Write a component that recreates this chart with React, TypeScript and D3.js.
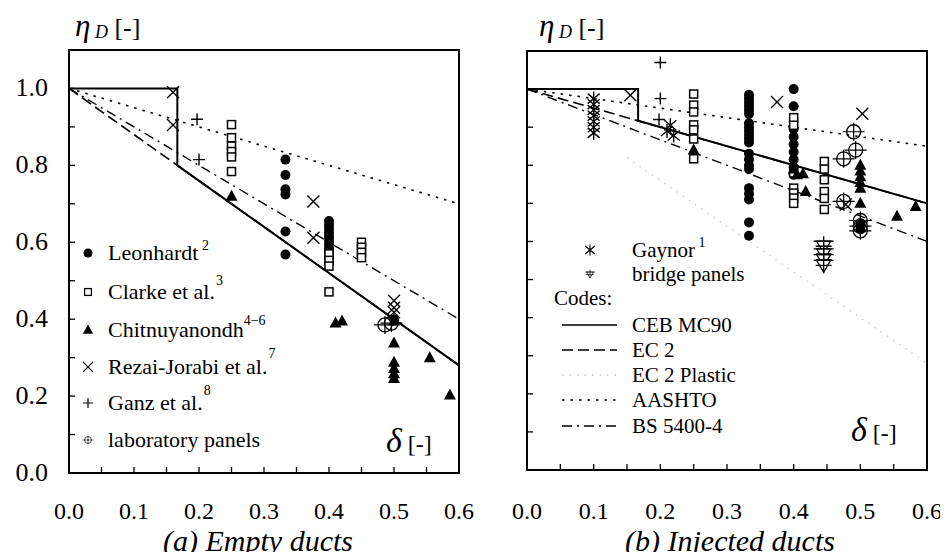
import React from 'react';
import * as d3 from 'd3';

type Pt = [number, number];

// ---- (a) Empty ducts ----
const leonhardtA: Pt[] = [
  [0.333, 0.815], [0.333, 0.775], [0.333, 0.738], [0.333, 0.724], [0.333, 0.628], [0.333, 0.568],
  [0.4, 0.655], [0.4, 0.645], [0.4, 0.635], [0.4, 0.625], [0.4, 0.615], [0.4, 0.605],
  [0.4, 0.595], [0.4, 0.585], [0.4, 0.575], [0.4, 0.56], [0.4, 0.545], [0.5, 0.4],
];
const clarkeA: Pt[] = [
  [0.25, 0.906], [0.25, 0.872], [0.25, 0.85], [0.25, 0.836], [0.25, 0.822], [0.25, 0.784],
  [0.4, 0.57], [0.4, 0.553], [0.4, 0.538], [0.4, 0.471],
  [0.45, 0.6], [0.45, 0.587], [0.45, 0.574], [0.45, 0.56],
];
const chitnuyanondhA: Pt[] = [
  [0.25, 0.72], [0.41, 0.39], [0.42, 0.395],
  [0.5, 0.395], [0.5, 0.338], [0.5, 0.288], [0.5, 0.272], [0.5, 0.258], [0.5, 0.246],
  [0.555, 0.3], [0.586, 0.203],
];
const rezaiA: Pt[] = [
  [0.16, 0.99], [0.16, 0.905], [0.376, 0.706], [0.376, 0.612],
  [0.5, 0.448], [0.5, 0.43], [0.5, 0.418],
];
const ganzA: Pt[] = [[0.197, 0.92], [0.2, 0.815]];
const labA: Pt[] = [[0.486, 0.385], [0.496, 0.39]];

// ---- (b) Injected ducts ----
const leonhardtB: Pt[] = [
  [0.333, 0.985], [0.333, 0.975], [0.333, 0.965], [0.333, 0.955], [0.333, 0.945], [0.333, 0.935],
  [0.333, 0.91], [0.333, 0.9], [0.333, 0.89], [0.333, 0.88], [0.333, 0.87], [0.333, 0.86],
  [0.333, 0.83], [0.333, 0.815], [0.333, 0.8], [0.333, 0.79], [0.333, 0.74], [0.333, 0.725],
  [0.333, 0.71], [0.333, 0.65], [0.333, 0.615],
  [0.4, 1.0], [0.4, 0.955], [0.4, 0.895], [0.4, 0.875], [0.4, 0.855], [0.4, 0.835],
  [0.4, 0.815], [0.4, 0.795], [0.4, 0.775],
  [0.5, 0.648], [0.5, 0.632],
];
const clarkeB: Pt[] = [
  [0.25, 0.987], [0.25, 0.958], [0.25, 0.94], [0.25, 0.906], [0.25, 0.893], [0.25, 0.869], [0.25, 0.817],
  [0.4, 0.925], [0.4, 0.905], [0.4, 0.78], [0.4, 0.74], [0.4, 0.727], [0.4, 0.714], [0.4, 0.7],
  [0.446, 0.81], [0.446, 0.79], [0.446, 0.762], [0.446, 0.731], [0.446, 0.713], [0.446, 0.684],
];
const chitnuyanondhB: Pt[] = [
  [0.25, 0.84], [0.4, 0.79], [0.405, 0.775], [0.414, 0.778], [0.418, 0.731],
  [0.5, 0.8], [0.5, 0.785], [0.5, 0.77], [0.5, 0.755], [0.5, 0.74], [0.5, 0.7],
  [0.555, 0.666], [0.583, 0.692],
];
const rezaiB: Pt[] = [[0.155, 0.984], [0.375, 0.966], [0.503, 0.935], [0.478, 0.697]];
const ganzB: Pt[] = [[0.2, 1.07], [0.2, 0.975], [0.198, 0.92]];
const gaynorB: Pt[] = [
  [0.1, 0.975], [0.1, 0.96], [0.1, 0.945], [0.1, 0.93], [0.1, 0.915], [0.1, 0.9], [0.1, 0.885],
  [0.215, 0.905], [0.21, 0.89], [0.22, 0.878],
];
const labB: Pt[] = [
  [0.49, 0.888], [0.493, 0.84], [0.475, 0.817], [0.475, 0.705],
  [0.5, 0.655], [0.5, 0.64], [0.5, 0.628],
];
const bridgeB: Pt[] = [[0.445, 0.59], [0.445, 0.57], [0.445, 0.555], [0.445, 0.54]];

// ---- code lines ----
const cebA: Pt[] = [[0, 1], [1 / 6, 1], [1 / 6, 0.8], [0.6, 0.28]];
const ec2A: Pt[] = [[0, 1], [0.6, 0.28]];
const aashtoA: Pt[] = [[0, 1], [0.6, 0.7]];
const bsA: Pt[] = [[0, 1], [0.6, 0.4]];

const cebB: Pt[] = [[0, 1], [1 / 6, 1], [1 / 6, 0.917], [0.6, 0.7]];
const ec2B: Pt[] = [[0, 1], [0.6, 0.7]];
const ec2PlasticB: Pt[] = [[0.15, 0.82], [0.6, 0.28]];
const aashtoB: Pt[] = [[0, 1], [0.6, 0.85]];
const bsB: Pt[] = [[0, 1], [0.6, 0.6]];

const xTickLabels = ['0.0', '0.1', '0.2', '0.3', '0.4', '0.5', '0.6'];
const yTickLabels = ['0.0', '0.2', '0.4', '0.6', '0.8', '1.0'];

const SERIF = "'Liberation Serif'";

const styles: Record<string, any> = {
  solid: { strokeWidth: 2 },
  dashed: { strokeWidth: 1.6, strokeDasharray: '11,5' },
  plastic: { strokeWidth: 1.2, strokeDasharray: '1.5,6', stroke: '#c4c4c4' },
  dotted: { strokeWidth: 1.6, strokeDasharray: '2.5,6' },
  dashdot: { strokeWidth: 1.4, strokeDasharray: '10,5,2,5' },
};

// plain text with the serif font set inline
function T({ children, ...rest }: any) {
  return (
    <text {...rest} style={{ fontFamily: SERIF }}>
      {children}
    </text>
  );
}

function Marker({ type, x, y, s = 1 }: { type: string; x: number; y: number; s?: number }) {
  const t = `translate(${x},${y}) scale(${s})`;
  switch (type) {
    case 'circle':
      return <circle transform={t} r={5} fill="#000" />;
    case 'square':
      return <rect transform={t} x={-4} y={-4} width={8} height={8} fill="#fff" stroke="#000" strokeWidth={1.5} />;
    case 'triangle':
      return <path transform={t} d="M0,-6.5L6,4.5L-6,4.5Z" fill="#000" />;
    case 'x':
      return <path transform={t} d="M-6,-6L6,6M-6,6L6,-6" stroke="#000" strokeWidth={1.4} fill="none" />;
    case 'plus':
      return <path transform={t} d="M-6,0H6M0,-6V6" stroke="#000" strokeWidth={1.4} fill="none" />;
    case 'lab':
      return (
        <g transform={t}>
          <circle r={7} fill="none" stroke="#000" strokeWidth={1.3} />
          <path d="M-11,0H11M0,-9V9" stroke="#000" strokeWidth={1.2} />
        </g>
      );
    case 'gaynor':
      return <path transform={t} d="M0,-7V7M-6,-5L6,5M-6,5L6,-5" stroke="#000" strokeWidth={1.4} fill="none" />;
    case 'bridge':
      return (
        <g transform={t}>
          <path d="M-7,-4L7,-4L0,8Z" fill="#fff" stroke="#000" strokeWidth={1.3} />
          <path d="M-10,-4H10M-8,1H8M0,-9V9" stroke="#000" strokeWidth={1.3} />
        </g>
      );
    default:
      return null;
  }
}

type Series = { type: string; data: Pt[] };
type CodeLine = { style: string; data: Pt[] };

function Panel({ left, right, top, bottom, series, codes, yLabels, caption, capX, children }: any) {
  const x = d3.scaleLinear().domain([0, 0.6]).range([left, right]);
  const y = d3.scaleLinear().domain([0, 1.1]).range([bottom, top]);
  const line = d3.line<Pt>().x(d => x(d[0])).y(d => y(d[1]));
  return (
    <g>
      {codes.map((c: CodeLine, i: number) => (
        <path key={i} d={line(c.data) || ''} fill="none" stroke="#000" {...styles[c.style]} />
      ))}
      {series.map((s: Series, i: number) =>
        s.data.map((d, j) => <Marker key={`${i}-${j}`} type={s.type} x={x(d[0])} y={y(d[1])} />)
      )}
      <rect x={left} y={top} width={right - left} height={bottom - top} fill="none" stroke="#000" strokeWidth={2} />
      {x.ticks(12).map((t, i) => (
        <line key={'xt' + i} x1={x(t)} x2={x(t)} y1={bottom} y2={bottom - 6} stroke="#000" strokeWidth={1.3} />
      ))}
      {y.ticks(11).map((t, i) => (
        <line key={'yt' + i} x1={left} x2={left + 6} y1={y(t)} y2={y(t)} stroke="#000" strokeWidth={1.3} />
      ))}
      {xTickLabels.map(l => (
        <T key={l} x={x(+l)} y={519} textAnchor="middle" fontSize={24}>{l}</T>
      ))}
      {yLabels &&
        yTickLabels.map(l => (
          <T key={l} x={48} y={y(+l) + 8} textAnchor="end" fontSize={26}>{l}</T>
        ))}
      <T x={capX} y={551} textAnchor="middle" fontSize={30} fontStyle="italic">{caption}</T>
      {children}
    </g>
  );
}

function YTitle({ x }: { x: number }) {
  return (
    <T x={x} y={36} fontSize={26}>
      <tspan fontStyle="italic" fontSize={31}>η</tspan>
      <tspan fontStyle="italic" fontSize={18} dy={2}> D</tspan>
      <tspan dy={-2}> [-]</tspan>
    </T>
  );
}

export default function App() {
  const L = { left: 69, right: 459, top: 50, bottom: 473 };
  const R = { left: 527, right: 927, top: 51, bottom: 470 };
  const sup = { fontSize: 14 };
  const codeRows = [
    { style: 'solid', label: 'CEB MC90', y: 325 },
    { style: 'dashed', label: 'EC 2', y: 350 },
    { style: 'plastic', label: 'EC 2 Plastic', y: 375 },
    { style: 'dotted', label: 'AASHTO', y: 400 },
    { style: 'dashdot', label: 'BS 5400-4', y: 426 },
  ];
  return (
    <svg width={948} height={560} fontFamily="Liberation Serif" style={{ display: 'block', margin: -8 }}>
      <rect width={948} height={560} fill="#fff" />
      <YTitle x={75} />
      <YTitle x={539} />
      <Panel
        {...L}
        yLabels
        caption="(a) Empty ducts"
        capX={258}
        codes={[
          { style: 'dotted', data: aashtoA },
          { style: 'dashdot', data: bsA },
          { style: 'dashed', data: ec2A },
          { style: 'solid', data: cebA },
        ]}
        series={[
          { type: 'circle', data: leonhardtA },
          { type: 'square', data: clarkeA },
          { type: 'triangle', data: chitnuyanondhA },
          { type: 'x', data: rezaiA },
          { type: 'plus', data: ganzA },
          { type: 'lab', data: labA },
        ]}
      >
        <Marker type="circle" x={88} y={253} s={0.9} />
        <T x={108} y={260} fontSize={22}>Leonhardt<tspan {...sup} dy={-10}> 2</tspan></T>
        <Marker type="square" x={88} y={292} s={0.85} />
        <T x={108} y={299} fontSize={22}>Clarke et al.<tspan {...sup} dy={-14} dx={1}>3</tspan></T>
        <Marker type="triangle" x={88} y={330} s={0.85} />
        <T x={108} y={337} fontSize={22}>Chitnuyanondh<tspan {...sup} dy={-12}>4−6</tspan></T>
        <Marker type="x" x={88} y={367} s={0.85} />
        <T x={108} y={374} fontSize={22}>Rezai-Jorabi et al.<tspan {...sup} dy={-16} dx={1}>7</tspan></T>
        <Marker type="plus" x={88} y={403} s={0.85} />
        <T x={108} y={410} fontSize={22}>Ganz et al.<tspan {...sup} dy={-15} dx={1}>8</tspan></T>
        <Marker type="lab" x={88} y={440} s={0.5} />
        <T x={108} y={447} fontSize={22}>laboratory panels</T>
        <T x={386} y={452} fontSize={24}>
          <tspan fontStyle="italic" fontSize={34}>δ</tspan> [-]
        </T>
      </Panel>
      <Panel
        {...R}
        caption="(b) Injected ducts"
        capX={730}
        codes={[
          { style: 'plastic', data: ec2PlasticB },
          { style: 'dotted', data: aashtoB },
          { style: 'dashdot', data: bsB },
          { style: 'dashed', data: ec2B },
          { style: 'solid', data: cebB },
        ]}
        series={[
          { type: 'circle', data: leonhardtB },
          { type: 'square', data: clarkeB },
          { type: 'triangle', data: chitnuyanondhB },
          { type: 'x', data: rezaiB },
          { type: 'plus', data: ganzB },
          { type: 'gaynor', data: gaynorB },
          { type: 'lab', data: labB },
          { type: 'bridge', data: bridgeB },
        ]}
      >
        <Marker type="gaynor" x={590} y={250} s={0.8} />
        <T x={632} y={257} fontSize={21}>Gaynor<tspan {...sup} dy={-10}> 1</tspan></T>
        <Marker type="bridge" x={590} y={274} s={0.5} />
        <T x={632} y={281} fontSize={21}>bridge panels</T>
        <T x={554} y={305} fontSize={21}>Codes:</T>
        {codeRows.map(r => (
          <g key={r.label}>
            <line x1={562} x2={617} y1={r.y} y2={r.y} stroke="#000" {...styles[r.style]} strokeWidth={1.3} />
            <T x={632} y={r.y + 7} fontSize={21}>{r.label}</T>
          </g>
        ))}
        <T x={851} y={441} fontSize={24}>
          <tspan fontStyle="italic" fontSize={34}>δ</tspan> [-]
        </T>
      </Panel>
    </svg>
  );
}
